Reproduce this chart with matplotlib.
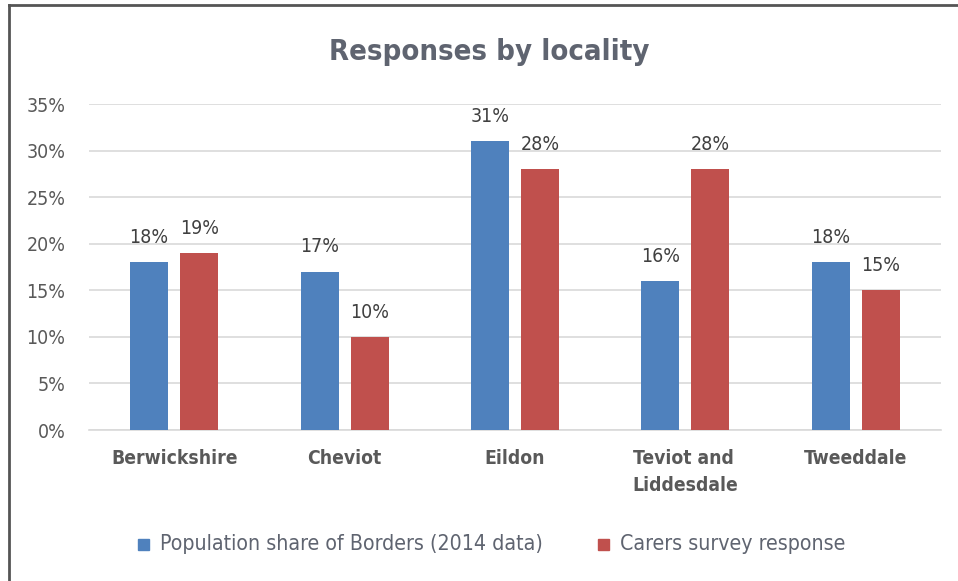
import matplotlib
matplotlib.use("Agg")
import matplotlib.pyplot as plt
from matplotlib.patches import Rectangle
from matplotlib.lines import Line2D
import numpy as np

categories = ["Berwickshire", "Cheviot", "Eildon", "Teviot and\nLiddesdale", "Tweeddale"]
population_share = [18, 17, 31, 16, 18]
survey_response = [19, 10, 28, 28, 15]
yticks = [0, 5, 10, 15, 20, 25, 30, 35]
series_names = ["Population share of Borders (2014 data)", "Carers survey response"]

BLUE = "#4f81bd"
RED = "#c0504d"
TEXT = "#5f6470"
TICK = "#595959"

FONT = dict(family="DejaVu Sans", fontstretch="condensed")

fig = plt.figure(figsize=(9.58, 5.81), dpi=100)
W, H = 958, 581
ax = fig.add_axes([89 / W, 1 - 430 / H, (941 - 89) / W, (430 - 104) / H])

x = np.arange(len(categories))
bw = 0.223
off = 0.147
b1 = ax.bar(x - off, population_share, bw, color=BLUE, zorder=3)
b2 = ax.bar(x + off, survey_response, bw, color=RED, zorder=3)

for bars, vals in ((b1, population_share), (b2, survey_response)):
    for rect, v in zip(bars, vals):
        ax.annotate(f"{v}%", (rect.get_x() + rect.get_width() / 2, v),
                    xytext=(0, 11), textcoords="offset points",
                    ha="center", va="bottom", fontsize=14, color="#404040",
                    **FONT)

ax.set_xlim(-0.5, len(categories) - 0.5)
ax.set_ylim(0, 35)
ax.set_yticks(yticks)
ax.set_yticklabels([f"{t}%" for t in yticks], fontsize=14, color=TICK, **FONT)
ax.yaxis.grid(True, color="#d9d9d9", linewidth=1.2, zorder=0)
ax.set_xticks(x)
ax.set_xticklabels(categories, fontweight="bold", fontsize=13.9, color=TICK,
                   linespacing=1.5, va="top", multialignment="left", **FONT)
ax.tick_params(axis="both", length=0)
ax.tick_params(axis="y", pad=17)
ax.tick_params(axis="x", pad=14)
for s in ("top", "right", "left"):
    ax.spines[s].set_visible(False)
ax.spines["bottom"].set_color("#d9d9d9")
ax.spines["bottom"].set_linewidth(1.2)

fig.text(489 / W, 1 - 52 / H, "Responses by locality", ha="center", va="center",
         fontsize=21, fontweight="bold", color=TEXT, **FONT)

# legend
for lx, name, col in ((143, series_names[0], BLUE), (603, series_names[1], RED)):
    fig.patches.append(Rectangle(((lx - 5) / W, 1 - 550 / H), 11 / W, 11 / H,
                                 transform=fig.transFigure, color=col))
    fig.text((lx + 17) / W, 1 - 544 / H, name, ha="left", va="center",
             fontsize=15.3, color=TEXT, **FONT)

# outer frame on left and top
fig.add_artist(Line2D([9 / W, 9 / W], [0, 1 - 5 / H], transform=fig.transFigure,
                      color="#555555", linewidth=2))
fig.add_artist(Line2D([9 / W, 1], [1 - 5 / H, 1 - 5 / H], transform=fig.transFigure,
                      color="#555555", linewidth=2))

fig.savefig("out.png", dpi=100, facecolor="white")
